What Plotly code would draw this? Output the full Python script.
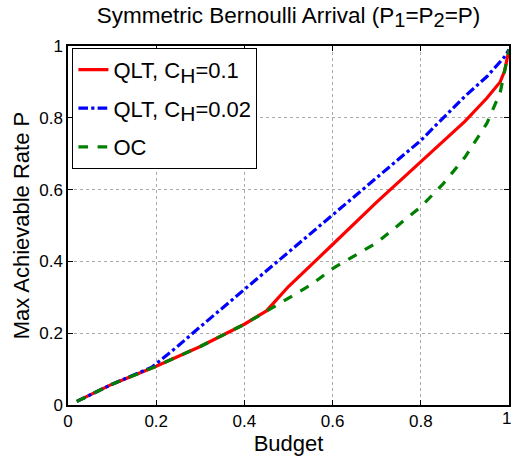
import plotly.graph_objects as go

# Budget fraction and maximum achievable symmetric arrival rate
budget_qlt01 = [0.02, 0.1, 0.2, 0.3, 0.4, 0.45, 0.5, 0.55, 0.6, 0.7, 0.8, 0.9, 0.95, 0.98, 0.99, 1.0]
rate_qlt01 = [0.01, 0.058, 0.108, 0.163, 0.225, 0.262, 0.33, 0.39, 0.447, 0.565, 0.678, 0.79, 0.855, 0.9, 0.93, 0.99]

budget_qlt002 = [0.02, 0.1, 0.19, 0.25, 0.3, 0.4, 0.5, 0.6, 0.7, 0.8, 0.9, 0.95, 0.99, 1.0]
rate_qlt002 = [0.01, 0.058, 0.105, 0.165, 0.218, 0.322, 0.425, 0.53, 0.633, 0.737, 0.86, 0.915, 0.97, 0.99]

budget_oc = [0.02, 0.1, 0.2, 0.3, 0.4, 0.45, 0.5, 0.55, 0.6, 0.7, 0.8, 0.85, 0.9, 0.95, 0.98, 0.99, 1.0]
rate_oc = [0.01, 0.058, 0.108, 0.163, 0.225, 0.262, 0.298, 0.334, 0.38, 0.452, 0.552, 0.615, 0.69, 0.785, 0.87, 0.93, 0.99]

# lowered, near full-size subscript
SUB = '<sub><span style="font-size:{}px">{}</span></sub>'
series_names = [
    "QLT, C" + SUB.format(21, "H") + "=0.1",
    "QLT, C" + SUB.format(21, "H") + "=0.02",
    "OC",
]
tick_vals = [0, 0.2, 0.4, 0.6, 0.8, 1]
tick_text = ["0", "0.2", "0.4", "0.6", "0.8", "1"]

FONT = "Liberation Sans, Arial, Helvetica, sans-serif"

fig = go.Figure()
fig.add_trace(go.Scatter(x=budget_qlt01, y=rate_qlt01, mode="lines", name=series_names[0],
                         legendgroup="a", line=dict(color="#ff0000", width=3.2)))
fig.add_trace(go.Scatter(x=budget_qlt002, y=rate_qlt002, mode="lines", name=series_names[1],
                         legendgroup="b", line=dict(color="#0000ff", width=3.2, dash="dashdot")))
fig.add_trace(go.Scatter(x=budget_oc, y=rate_oc, mode="lines", name=series_names[2],
                         legendgroup="c", line=dict(color="#008000", width=3.2, dash="dash")))

axis_common = dict(
    range=[0, 1], tickvals=tick_vals,
    showline=True, linecolor="black", linewidth=1.5, mirror="ticks",
    ticks="inside", ticklen=5, tickcolor="black", tickwidth=1,
    showgrid=True, gridcolor="#aaaaaa", griddash="dot", gridwidth=1,
    zeroline=False, tickfont=dict(family=FONT, size=17, color="black"),
)

fig.update_layout(
    width=512, height=457,
    margin=dict(l=68, r=1, t=46, b=52),
    paper_bgcolor="white", plot_bgcolor="white",
    font=dict(family=FONT, color="black"),
    title=dict(text="Symmetric Bernoulli Arrival (P" + SUB.format(20, "1") + "=P"
                    + SUB.format(20, "2") + "=P)",
               x=0.5, xref="paper", xanchor="center", y=0.985, yref="container",
               font=dict(family=FONT, size=22.5, color="black")),
    xaxis=dict(**axis_common, ticktext=tick_text[:-1] + [""],
               title=dict(text="Budget", standoff=0,
                          font=dict(family=FONT, size=22, color="black"))),
    yaxis=dict(**axis_common, ticktext=tick_text,
               title=dict(text="Max Achievable Rate P", standoff=4,
                          font=dict(family=FONT, size=22, color="black"))),
    legend=dict(x=0.01, y=0.995, xanchor="left", yanchor="top",
                bgcolor="white", bordercolor="black", borderwidth=1,
                font=dict(family=FONT, size=22, color="black"),
                tracegroupgap=7, traceorder="grouped"),
    showlegend=True,
)

# last x tick label sits at the figure's right edge
fig.add_annotation(x=tick_vals[-1], xref="x", y=0, yref="paper", text=tick_text[-1],
                   showarrow=False, xanchor="center", yanchor="top", yshift=-2, xshift=-3,
                   font=dict(family=FONT, size=17, color="black"))

fig.write_html("out.html")
